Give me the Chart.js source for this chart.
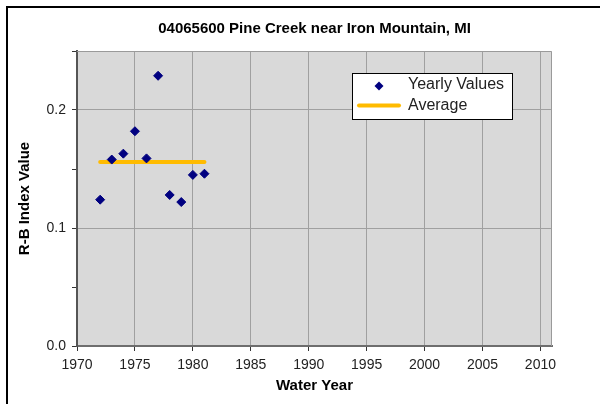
<!DOCTYPE html>
<html>
<head>
<meta charset="utf-8">
<title>Pine Creek R-B Index</title>
<script src="https://cdn.jsdelivr.net/npm/chart.js@4.4.1/dist/chart.umd.min.js"></script>
<style>
  html, body { margin: 0; padding: 0; background: #fff; overflow: hidden; }
  #wrap { position: relative; width: 600px; height: 404px; }
  /* black frame along the top and left edge of the sheet */
  #frame { position: absolute; left: 6px; top: 6px; width: 600px; height: 410px;
           border-top: 2px solid #000; border-left: 2px solid #000; pointer-events: none; }
</style>
</head>
<body>
<div id="wrap">
  <canvas id="rbChart" width="600" height="404"></canvas>
  <div id="frame"></div>
</div>
<script>
// yearly Richards-Baker flashiness index
const waterYears = [1972, 1973, 1974, 1975, 1976, 1977, 1978, 1979, 1980, 1981];
const rbIndex = [0.124, 0.158, 0.163, 0.182, 0.159, 0.229, 0.128, 0.122, 0.145, 0.146];

// average over the period of record
const averageYears = [1972, 1981];
const averageValue = 0.156;

// labelled y ticks (minor ticks in between stay blank)
const yLabelValues = [0.0, 0.1, 0.2];

const FONT = '"Liberation Sans", Arial, sans-serif';
const NAVY = '#000080';
const GOLD = '#ffbb00';

const isLabelled = v => yLabelValues.some(l => Math.abs(l - v) < 1e-6);

// grey plot area with a thin frame on top and right
const plotBackground = {
  id: 'plotBackground',
  beforeDraw(chart) {
    const {ctx, chartArea: a} = chart;
    ctx.save();
    ctx.fillStyle = '#d9d9d9';
    ctx.fillRect(a.left, a.top, a.right - a.left, a.bottom - a.top);
    ctx.restore();
  },
  beforeDatasetsDraw(chart) {
    const {ctx, chartArea: a} = chart;
    ctx.save();
    ctx.strokeStyle = '#9a9a9a';
    ctx.lineWidth = 1;
    ctx.beginPath();
    ctx.moveTo(a.left, a.top + 0.5);
    ctx.lineTo(a.right - 0.5, a.top + 0.5);
    ctx.lineTo(a.right - 0.5, a.bottom);
    ctx.stroke();
    ctx.restore();
  }
};

// boxed legend sitting inside the plot
const boxLegend = {
  id: 'boxLegend',
  afterDraw(chart) {
    const ctx = chart.ctx;
    const [pts, avg] = chart.data.datasets;
    ctx.save();
    ctx.fillStyle = '#fff';
    ctx.fillRect(352, 73, 160, 46);
    ctx.strokeStyle = '#000';
    ctx.lineWidth = 1;
    ctx.strokeRect(352.5, 73.5, 160, 46);

    // diamond marker
    const cx = 379, cy = 86, r = 4.5;
    ctx.fillStyle = pts.backgroundColor;
    ctx.beginPath();
    ctx.moveTo(cx, cy - r); ctx.lineTo(cx + r, cy); ctx.lineTo(cx, cy + r); ctx.lineTo(cx - r, cy);
    ctx.closePath();
    ctx.fill();

    // average line sample
    ctx.strokeStyle = avg.borderColor;
    ctx.lineWidth = avg.borderWidth;
    ctx.lineCap = 'round';
    ctx.beginPath();
    ctx.moveTo(359, 105.5); ctx.lineTo(399, 105.5);
    ctx.stroke();

    ctx.fillStyle = '#222';
    ctx.font = '16px ' + FONT;
    ctx.textBaseline = 'middle';
    ctx.textAlign = 'left';
    ctx.fillText(pts.label, 408, 85);
    ctx.fillText(avg.label, 408, 106);
    ctx.restore();
  }
};

const ctx = document.getElementById('rbChart').getContext('2d');

new Chart(ctx, {
  type: 'scatter',
  data: {
    datasets: [{
      label: 'Yearly Values',
      data: waterYears.map((yr, i) => ({x: yr, y: rbIndex[i]})),
      showLine: false,
      pointStyle: 'rectRot',
      pointRadius: 4.5,
      backgroundColor: NAVY,
      borderColor: NAVY,
      borderWidth: 1,
      order: 1
    },
    {
      label: 'Average',
      data: averageYears.map(yr => ({x: yr, y: averageValue})),
      showLine: true,
      borderColor: GOLD,
      backgroundColor: GOLD,
      borderWidth: 4,
      borderCapStyle: 'round',
      pointRadius: 0,
      order: 2
    }]
  },
  options: {
    responsive: false,
    animation: false,
    layout: { padding: { left: 0, right: 48, top: 0, bottom: 0 } },
    scales: {
      x: {
        type: 'linear',
        min: 1970,
        max: 2011,
        ticks: {
          stepSize: 5,
          includeBounds: false,
          maxRotation: 0,
          padding: 6,
          color: '#222',
          font: { family: FONT, size: 14 },
          callback: v => String(v)
        },
        grid: { color: '#a0a0a0', tickColor: '#333', tickLength: 5, lineWidth: 1 },
        border: { color: '#6e6e6e', width: 2 },
        title: {
          display: true,
          text: 'Water Year',
          color: '#000',
          font: { family: FONT, size: 15, weight: 'bold' },
          padding: { top: 0, bottom: 9 }
        },
        afterFit(scale) { scale.height = 58; }
      },
      y: {
        min: 0,
        max: 0.25,
        ticks: {
          stepSize: 0.05,
          padding: 6,
          color: '#222',
          font: { family: FONT, size: 14 },
          callback: v => isLabelled(v) ? v.toFixed(1) : ''
        },
        grid: {
          color: c => isLabelled(c.tick.value) ? '#a0a0a0' : 'rgba(0,0,0,0)',
          tickColor: '#333',
          tickLength: 5,
          lineWidth: 1
        },
        border: { color: '#555', width: 2 },
        title: {
          display: true,
          text: 'R-B Index Value',
          color: '#000',
          font: { family: FONT, size: 15, weight: 'bold' },
          padding: { top: 16, bottom: 0 }
        },
        afterFit(scale) { scale.width = 77; }
      }
    },
    plugins: {
      legend: { display: false },
      tooltip: { enabled: false },
      title: {
        display: true,
        text: '04065600 Pine Creek near Iron Mountain, MI',
        fullSize: false,
        color: '#000',
        font: { family: FONT, size: 15, weight: 'bold' },
        padding: { top: 20, bottom: 13 }
      }
    }
  },
  plugins: [plotBackground, boxLegend]
});
</script>
</body>
</html>
